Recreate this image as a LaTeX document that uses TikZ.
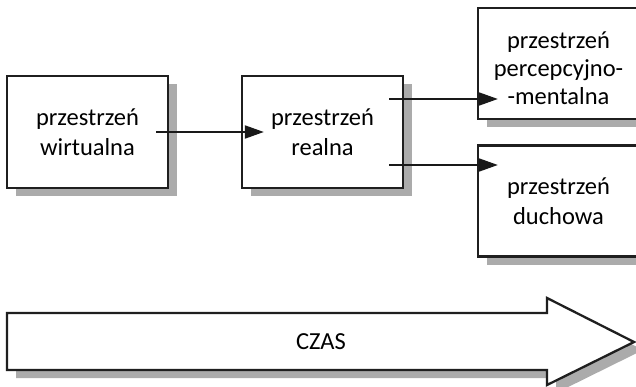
\documentclass[tikz,border=0pt]{standalone}
\usepackage{fontspec}
\setmainfont{Carlito}
\usetikzlibrary{arrows.meta,shadows}

\tikzset{
    spacebox/.style={draw=black!88, line width=2.3pt, fill=white,
        minimum width=161pt, minimum height=112pt, align=center,
        font=\fontsize{24.5}{30}\selectfont,
        drop shadow={shadow xshift=9pt, shadow yshift=-8pt, fill=black!33, opacity=1}},
    flow/.style={line width=2pt, draw=black!90, -{Triangle[length=19pt,width=13pt]}}
}

\begin{document}
\begin{tikzpicture}[x=1pt,y=-1pt]
    \clip (0,0) rectangle (636,387);
    \fill[white] (0,0) rectangle (636,387);
    % boxes
    \node[spacebox] (wirt) at (87.5,132) {przestrzeń\\wirtualna};
    \node[spacebox] (real) at (322.5,132) {przestrzeń\\realna};
    \node[spacebox, minimum height=111pt] (perc) at (558.5,63.5)
        {\raisebox{-14pt}[0pt][0pt]{\fontsize{24.5}{28}\selectfont\begin{tabular}{@{}c@{}}przestrzeń\\percepcyjno-\\-mentalna\end{tabular}}};
    \node[spacebox, minimum height=111pt] (duch) at (558.5,201) {przestrzeń\\duchowa};
    % connectors
    \draw[flow] ([xshift=-13pt]wirt.east) -- ([xshift=23pt]real.west);
    \draw[flow] ([xshift=-15pt,yshift=33pt]real.east) -- ([xshift=21pt,yshift=33pt]real.east -| perc.west);
    \draw[flow] ([xshift=-15pt,yshift=-33pt]real.east) -- ([xshift=21pt,yshift=-33pt]real.east -| duch.west);
    % time arrow
    \draw[draw=black!88, line width=2.3pt, fill=white,
        drop shadow={shadow xshift=9pt, shadow yshift=-8pt, fill=black!33, opacity=1}]
        (7,313) to (547,313) to (547,298)
        to (634,342) to (547,385)
        to (547,370) to (7,370) -- cycle;
    \node[font=\fontsize{24.5}{30}\selectfont] (czas) at (321,342) {CZAS};
\end{tikzpicture}
\end{document}
